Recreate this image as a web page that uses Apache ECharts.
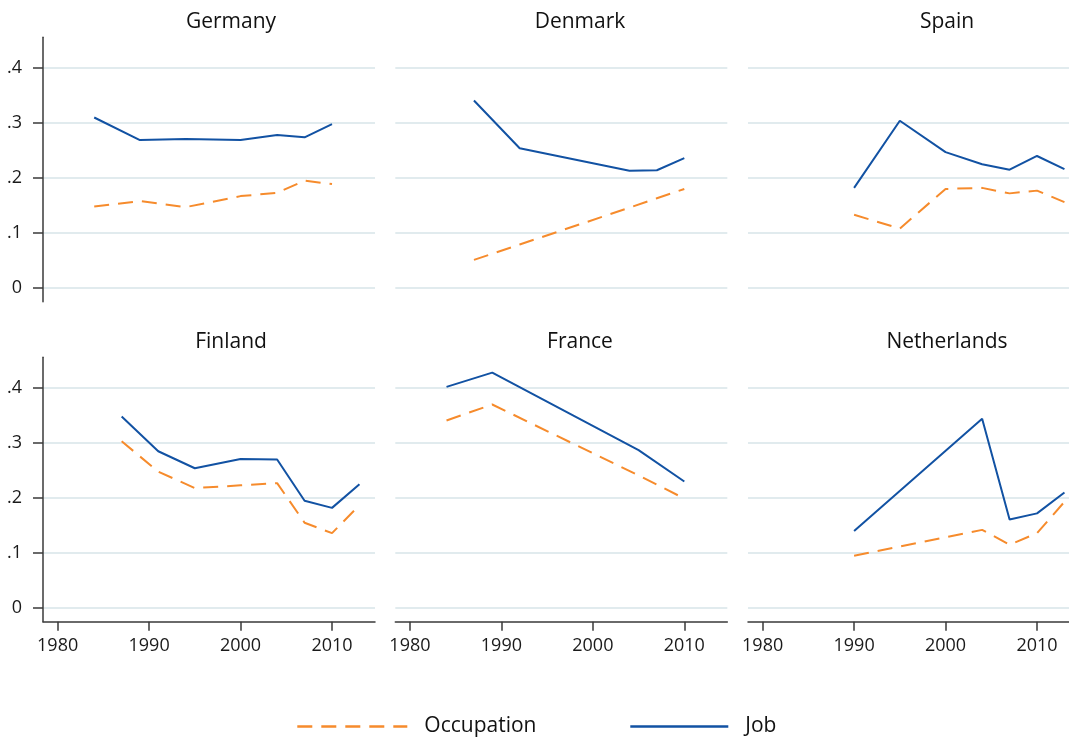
<!DOCTYPE html>
<html>
<head>
<meta charset="utf-8">
<title>Occupation vs Job</title>
<script src="https://cdn.jsdelivr.net/npm/echarts@6/dist/echarts.min.js"></script>
<style>
  html, body { margin: 0; padding: 0; background: #fff; }
  #chart { width: 1069px; height: 740px; }
</style>
</head>
<body>
<div id="chart"></div>
<script>
// tick values / labels
const xTicks = [1980, 1990, 2000, 2010];
const yTicks = [0, 0.1, 0.2, 0.3, 0.4];
const yTickLabels = ['0', '.1', '.2', '.3', '.4'];

const countries = ['Germany', 'Denmark', 'Spain', 'Finland', 'France', 'Netherlands'];

// Germany
const gerYears = [1984, 1989, 1994, 2000, 2004, 2007, 2010];
const gerJob = [0.310, 0.269, 0.271, 0.269, 0.278, 0.274, 0.298];
const gerOcc = [0.148, 0.158, 0.147, 0.167, 0.173, 0.195, 0.189];
// Denmark
const denYears = [1987, 1992, 2004, 2007, 2010];
const denJob = [0.341, 0.254, 0.213, 0.214, 0.236];
const denOcc = [0.051, 0.079, 0.146, 0.163, 0.180];
// Spain
const spaYears = [1990, 1995, 2000, 2004, 2007, 2010, 2013];
const spaJob = [0.182, 0.304, 0.247, 0.225, 0.215, 0.240, 0.216];
const spaOcc = [0.133, 0.108, 0.180, 0.182, 0.172, 0.177, 0.156];
// Finland
const finYears = [1987, 1991, 1995, 2000, 2004, 2007, 2010, 2013];
const finJob = [0.348, 0.285, 0.254, 0.271, 0.270, 0.195, 0.182, 0.225];
const finOcc = [0.303, 0.248, 0.218, 0.223, 0.227, 0.155, 0.136, 0.187];
// France
const fraYears = [1984, 1989, 2005, 2010];
const fraJob = [0.402, 0.428, 0.287, 0.230];
const fraOcc = [0.341, 0.370, 0.241, 0.199];
// Netherlands
const nldYears = [1990, 2004, 2007, 2010, 2013];
const nldJob = [0.140, 0.344, 0.161, 0.172, 0.210];
const nldOcc = [0.095, 0.142, 0.115, 0.136, 0.193];

const panels = [
  [gerYears, gerJob, gerOcc],
  [denYears, denJob, denOcc],
  [spaYears, spaJob, spaOcc],
  [finYears, finJob, finOcc],
  [fraYears, fraJob, fraOcc],
  [nldYears, nldJob, nldOcc],
];

const FONT = '"Open Sans", "Noto Sans", sans-serif';
const BLUE = '#1252a3';
const ORANGE = '#f68b2c';
const GRIDC = '#e1ebee';
const AXISC = '#3a3a3a';

const colLeft = [43, 395.3, 748];
const rowTop = [37.2, 357.2];
const titleX = [231, 580, 947];
const titleY = [12, 332];

const zip = (xs, ys) => xs.map((x, i) => [x, ys[i]]);

const grid = [], xAxis = [], yAxis = [], series = [], title = [];

panels.forEach(([years, job, occ], i) => {
  const col = i % 3, row = Math.floor(i / 3);
  grid.push({
    left: colLeft[col], top: rowTop[row], width: 332, height: 264.5,
    containLabel: false, outerBoundsMode: 'none'
  });
  title.push({
    text: countries[i],
    left: titleX[col], top: titleY[row], textAlign: 'center', padding: 0,
    textStyle: { fontSize: 21, fontWeight: 'normal', color: '#111', fontFamily: FONT }
  });
  const bottom = row === 1;
  xAxis.push({
    type: 'value', gridIndex: i, min: 1978.4, max: 2014.7,
    splitLine: { show: false },
    axisLine: { show: bottom, onZero: false, lineStyle: { color: AXISC, width: 1.5 } },
    axisTick: { show: bottom, customValues: xTicks, length: 9, lineStyle: { color: AXISC, width: 1.5 } },
    axisLabel: {
      show: bottom, customValues: xTicks, margin: 15, fontSize: 18, color: '#1a1a1a', fontFamily: FONT,
      formatter: v => String(v)
    }
  });
  const first = col === 0;
  yAxis.push({
    type: 'value', gridIndex: i, min: -0.025, max: 0.456,
    splitLine: { show: true, lineStyle: { color: GRIDC, width: 2 } },
    axisLine: { show: first, onZero: false, lineStyle: { color: AXISC, width: 1.5 } },
    axisTick: { show: first, customValues: yTicks, length: 10, lineStyle: { color: AXISC, width: 1.5 } },
    axisLabel: {
      show: first, customValues: yTicks, margin: 21, fontSize: 18, color: '#1a1a1a', fontFamily: FONT,
      formatter: v => yTickLabels[yTicks.findIndex(t => Math.abs(t - v) < 1e-9)]
    }
  });
  series.push({
    name: 'Occupation', type: 'line', xAxisIndex: i, yAxisIndex: i,
    data: zip(years, occ), symbol: 'none',
    lineStyle: { color: ORANGE, width: 2, type: [15, 9] },
    itemStyle: { color: ORANGE }
  });
  series.push({
    name: 'Job', type: 'line', xAxisIndex: i, yAxisIndex: i,
    data: zip(years, job), symbol: 'none',
    lineStyle: { color: BLUE, width: 2 },
    itemStyle: { color: BLUE }
  });
});

const legendText = { fontSize: 21, color: '#111', fontFamily: FONT, padding: [0, 0, 0, 12] };

const chart = echarts.init(document.getElementById('chart'));
chart.setOption({
  animation: false,
  backgroundColor: '#fff',
  title: title,
  grid: grid,
  xAxis: xAxis,
  yAxis: yAxis,
  series: series,
  legend: [
    { data: ['Occupation'], left: 296, top: 716, padding: 0, itemWidth: 110, itemHeight: 14,
      itemStyle: { opacity: 0 }, lineStyle: { width: 2.6 }, textStyle: legendText, selectedMode: false },
    { data: ['Job'], left: 629, top: 716, padding: 0, itemWidth: 98, itemHeight: 14,
      itemStyle: { opacity: 0 }, lineStyle: { width: 2.6 }, textStyle: legendText, selectedMode: false }
  ]
});
</script>
</body>
</html>
